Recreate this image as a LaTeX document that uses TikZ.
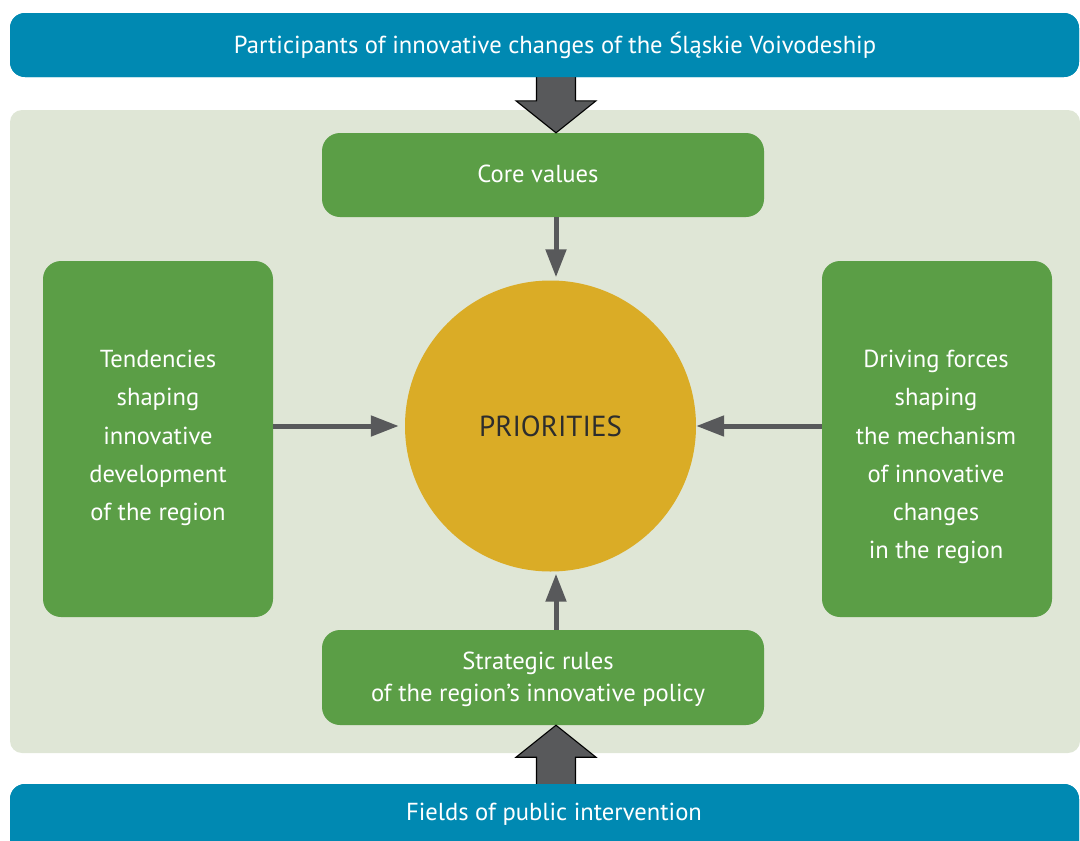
\documentclass[tikz,border=0pt]{standalone}
\usepackage{fontspec}
\setmainfont{PT Sans}
\usetikzlibrary{arrows.meta,calc}
\definecolor{barblue}{RGB}{0,137,178}
\definecolor{panelgreen}{RGB}{223,230,214}
\definecolor{boxgreen}{RGB}{91,158,70}
\definecolor{gold}{RGB}{218,172,38}
\definecolor{arrowgray}{RGB}{88,89,91}
\definecolor{prioText}{RGB}{45,45,45}
\begin{document}
\begin{tikzpicture}[x=1pt,y=-1pt,
  bar/.style={rectangle, rounded corners=15pt, fill=barblue, inner sep=0pt},
  panel/.style={rectangle, rounded corners=12pt, fill=panelgreen, inner sep=0pt},
  gbox/.style={rectangle, rounded corners=18pt, fill=boxgreen, inner sep=0pt},
  wtext/.style={text=white, font=\fontsize{24.6}{38.2}\selectfont, align=center, inner sep=0pt},
  arr/.style={draw=arrowgray, line width=5pt, -{Triangle[length=28pt,width=20pt]}},
  bigarrow/.style={fill=arrowgray, draw=black, line width=1.1pt, line join=miter}
]
\useasboundingbox (0,0) rectangle (1080,841);

% shared vertical axis of the central connectors
\coordinate (axis) at (556,0);

% light background panel
\node[panel, minimum width=1070pt, minimum height=643pt] (panel) at (545,431.5) {};

% green boxes and the central circle
\node[gbox, minimum width=442pt, minimum height=84pt] (core) at (543,175) {};
\node[wtext] at (538,174) {Core values};

\node[gbox, minimum width=442pt, minimum height=95pt] (strat) at (543,677.5) {};
\node[wtext, font=\fontsize{24.6}{32}\selectfont] at (538,679) {Strategic rules\\of the region’s innovative policy};

\node[gbox, minimum width=230pt, minimum height=356pt] (lbox) at (158,439) {};
\node[wtext] at (158,438) {Tendencies\\shaping\\innovative\\development\\of the region};

\node[gbox, minimum width=230pt, minimum height=356pt] (rbox) at (937,439) {};
\node[wtext] at (936,457) {Driving forces\\shaping\\the mechanism\\of innovative\\changes\\in the region};

\node[circle, fill=gold, minimum size=291pt, inner sep=0pt, text=prioText,
      font=\fontsize{29}{32}\selectfont] (prio) at (550.5,426) {PRIORITIES};

% thin connectors into the circle
\draw[arr, shorten >=3pt] (core.south -| axis) -- (prio.north -| axis);
\draw[arr, shorten >=2pt] (strat.north -| axis) -- (prio.south -| axis);
\draw[arr, shorten >=6pt] (lbox.east |- prio) -- (prio.west);
\draw[arr] (rbox.west |- prio) -- (prio.east);

% blue bars
\node[bar, minimum width=1069pt, minimum height=64pt] (topbar) at (544.5,45) {};
\node[bar, minimum width=1069pt, minimum height=86pt] (botbar) at (544.5,827) {};

% wide block arrows between the bars and the boxes
\coordinate (ts) at (topbar.south -| axis);
\coordinate (ct) at (core.north -| axis);
\draw[bigarrow] ($(ts)+(-19.5,-2)$) -- ($(ct)+(-19.5,-32)$) -- ($(ct)+(-40,-32)$)
  -- (ct) -- ($(ct)+(40,-32)$) -- ($(ct)+(19.5,-32)$) -- ($(ts)+(19.5,-2)$) -- cycle;

\coordinate (sb) at (strat.south -| axis);
\coordinate (bs) at (botbar.north -| axis);
\draw[bigarrow] (sb) -- ($(sb)+(40,32)$) -- ($(sb)+(19.5,32)$) -- ($(bs)+(19.5,2)$)
  -- ($(bs)+(-19.5,2)$) -- ($(sb)+(-19.5,32)$) -- ($(sb)+(-40,32)$) -- cycle;

% bars drawn over the arrow tails
\fill[barblue, rounded corners=15pt] (10,13) rectangle (1079,77);
\fill[barblue, rounded corners=15pt] (10,784) rectangle (1079,870);
\node[wtext] at (555,45) {Participants of innovative changes of the Śląskie Voivodeship};
\node[wtext] at (554,814) {Fields of public intervention};
\end{tikzpicture}
\end{document}
